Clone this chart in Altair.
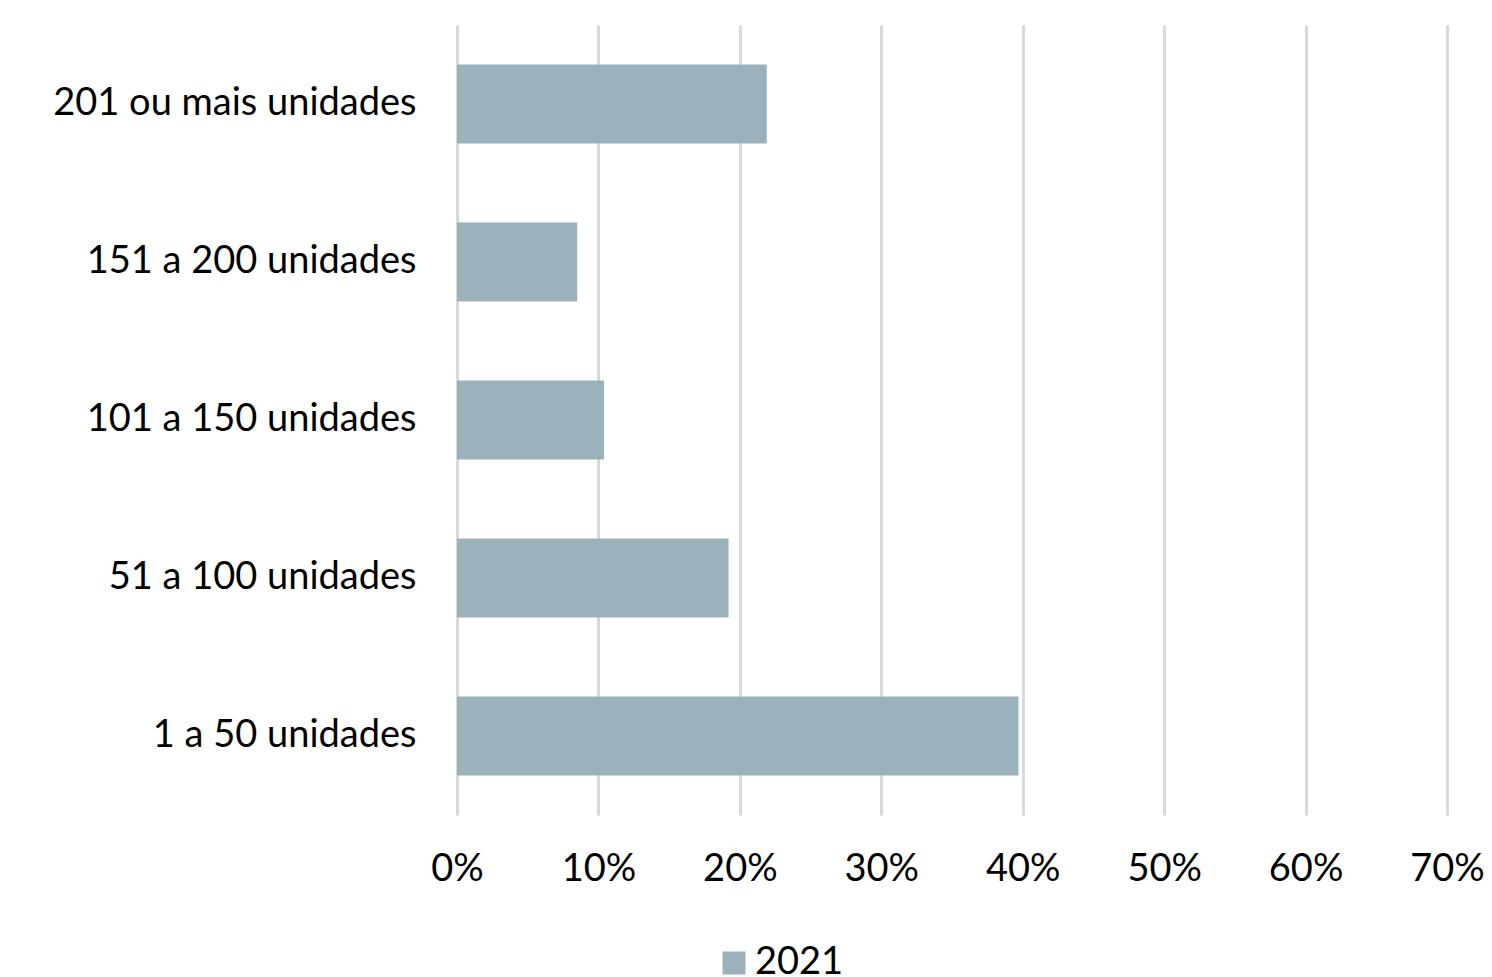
import altair as alt
import pandas as pd

categories = ["201 ou mais unidades", "151 a 200 unidades", "101 a 150 unidades", "51 a 100 unidades", "1 a 50 unidades"]
values = [21.9, 8.5, 10.4, 19.2, 39.7]
series = ["2021"] * len(categories)

df = pd.DataFrame({"cat": categories, "val": [v / 100 for v in values], "serie": series})

FONT = "Lato"
FS = 38

chart = alt.Chart(df).mark_bar(color="#9BB1BC").encode(
    y=alt.Y("cat:N", sort=categories, title=None,
            scale=alt.Scale(paddingInner=0.5, paddingOuter=0.25),
            axis=alt.Axis(domain=False, ticks=False, grid=False, labelFontSize=FS, labelFont=FONT,
                          labelColor="#000000", labelPadding=41, labelLimit=600)),
    x=alt.X("val:Q", title=None,
            scale=alt.Scale(domain=[0, 0.7], nice=False),
            axis=alt.Axis(format=".0%", values=[0, 0.1, 0.2, 0.3, 0.4, 0.5, 0.6, 0.7],
                          domain=False, ticks=False, grid=True, gridColor="#D9D9D9", gridWidth=3,
                          labelFontSize=FS, labelFont=FONT, labelColor="#000000", labelPadding=35,
                          labelFlush=False)),
    color=alt.Color("serie:N", scale=alt.Scale(range=["#9BB1BC"]),
                    legend=alt.Legend(title=None, orient="none", legendX=258, legendY=919,
                                      symbolType="square", symbolSize=529, symbolStrokeWidth=0,
                                      labelFontSize=FS, labelFont=FONT, labelColor="#000000",
                                      labelOffset=2)),
).properties(
    width=990, height=790,
    background="#FFFFFF",
    autosize=alt.AutoSizeParams(type="none"),
    padding={"left": 457, "top": 25, "right": 45, "bottom": 162},
).configure_view(stroke=None, strokeWidth=0)

chart.save("out.html", embed_options={"renderer": "svg", "actions": False})
